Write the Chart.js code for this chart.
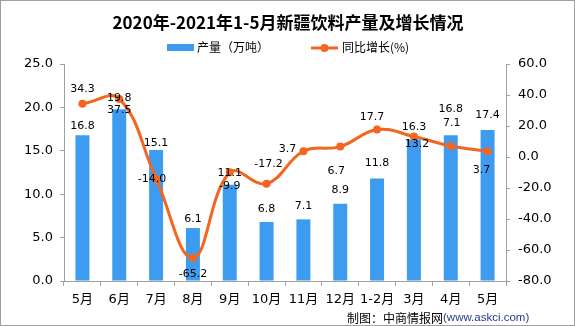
<!DOCTYPE html>
<html>
<head>
<meta charset="utf-8">
<script src="https://cdn.jsdelivr.net/npm/chart.js@4.4.0/dist/chart.umd.min.js"></script>
<style>
html,body{margin:0;padding:0;background:#fff;}
canvas{display:block;}
</style>
</head>
<body>
<canvas id="c" width="575" height="326"></canvas>
<script>
// ---- data ----
const categories = ['5月','6月','7月','8月','9月','10月','11月','12月','1-2月','3月','4月','5月'];
const production = [16.8, 19.8, 15.1, 6.1, 11.1, 6.8, 7.1, 8.9, 11.8, 16.3, 16.8, 17.4];
const growth = [34.3, 37.5, -14.0, -65.2, -9.9, -17.2, 3.7, 6.7, 17.7, 13.2, 7.1, 3.7];
const leftTicks = [0, 5, 10, 15, 20, 25];
const rightTicks = [-80, -60, -40, -20, 0, 20, 40, 60];
const seriesNames = ['产量（万吨）', '同比增长(%)'];
const titleText = '2020年-2021年1-5月新疆饮料产量及增长情况';
const sourceA = '制图：中商情报网';
const sourceB = '(www.askci.com)';

// ---- label placement (style) ----
const barLabelDy = [-9, -11, -7, -9, -12, -13, -13, -14, -15, -12, -26, -15];
const lineLabelDx = [0, 0, -4, 0, 0, 2, -16, -4, -5, 3, 1, -6];
const lineLabelDy = [-15, 11, 0, 16, 14, -20, -2, 25, -12, 8, -23, 19];

const BLUE = '#3d9cf0';
const ORANGE = '#f4661f';
const AXIS = '#a0a0a0';
const TICKFONT = {family: 'DejaVu Sans, "Noto Sans CJK SC"', size: 13};

const decor = {
  id: 'decor',
  afterDatasetsDraw(chart) {
    const ctx = chart.ctx;
    ctx.save();
    ctx.font = '11px "DejaVu Sans"';
    ctx.fillStyle = '#000';
    ctx.textAlign = 'center';
    ctx.textBaseline = 'middle';
    const barMeta = chart.getDatasetMeta(1);
    barMeta.data.forEach((el, i) => {
      ctx.fillText(production[i].toFixed(1), el.x, el.y + barLabelDy[i]);
    });
    const lineMeta = chart.getDatasetMeta(0);
    lineMeta.data.forEach((el, i) => {
      ctx.fillText(growth[i].toFixed(1), el.x + lineLabelDx[i], el.y + lineLabelDy[i]);
    });
    ctx.restore();
  },
  afterDraw(chart) {
    const ctx = chart.ctx;
    ctx.save();
    // title
    ctx.fillStyle = '#000';
    ctx.font = 'bold 17px "Noto Sans CJK SC"';
    ctx.textAlign = 'center';
    ctx.textBaseline = 'middle';
    ctx.fillText(titleText, 288, 22.5);
    // legend
    ctx.fillStyle = BLUE;
    ctx.fillRect(167, 44, 27, 7);
    ctx.fillStyle = '#000';
    ctx.font = '12px "Noto Sans CJK SC"';
    ctx.textAlign = 'left';
    ctx.fillText(seriesNames[0], 197, 47.5);
    ctx.strokeStyle = ORANGE;
    ctx.lineWidth = 3;
    ctx.beginPath(); ctx.moveTo(311, 48); ctx.lineTo(338, 48); ctx.stroke();
    ctx.fillStyle = ORANGE;
    ctx.beginPath(); ctx.arc(324.5, 48, 4, 0, Math.PI * 2); ctx.fill();
    ctx.fillStyle = '#000';
    ctx.fillText(seriesNames[1], 342, 47.5);
    // source
    ctx.font = '12px "Noto Sans CJK SC"';
    ctx.fillText(sourceA, 347, 318);
    const w = ctx.measureText(sourceA).width;
    ctx.font = '11.5px "Liberation Sans"';
    ctx.fillStyle = '#1f3c88';
    ctx.fillText(sourceB, 347 + w, 318);
    // border
    ctx.strokeStyle = '#a0a0a0';
    ctx.lineWidth = 1;
    ctx.strokeRect(0.5, 0.5, 574, 325);
    ctx.restore();
  }
};

new Chart(document.getElementById('c'), {
  type: 'bar',
  data: {
    labels: categories,
    datasets: [
      {
        type: 'line',
        label: seriesNames[1],
        data: growth,
        yAxisID: 'y1',
        borderColor: ORANGE,
        backgroundColor: ORANGE,
        borderWidth: 3,
        pointRadius: 4,
        pointBorderWidth: 0,
        pointBackgroundColor: ORANGE,
        tension: 0.4,
        order: 0
      },
      {
        type: 'bar',
        label: seriesNames[0],
        data: production,
        yAxisID: 'y',
        backgroundColor: BLUE,
        barPercentage: 0.38,
        categoryPercentage: 1,
        order: 1
      }
    ]
  },
  options: {
    responsive: false,
    devicePixelRatio: 1,
    animation: false,
    layout: {padding: {top: 64, left: 0, right: 0, bottom: 15}},
    plugins: {legend: {display: false}, title: {display: false}, tooltip: {enabled: false}},
    scales: {
      x: {
        offset: true,
        grid: {display: true, drawOnChartArea: false, offset: true, tickLength: 5, color: AXIS},
        border: {display: true, color: AXIS},
        ticks: {font: TICKFONT, color: '#000', padding: 6, maxRotation: 0, autoSkip: false},
        afterFit(s) { s.height = 30; }
      },
      y: {
        position: 'left',
        min: leftTicks[0], max: leftTicks[leftTicks.length - 1],
        afterBuildTicks(s) { s.ticks = leftTicks.map(v => ({value: v})); },
        grid: {display: true, drawOnChartArea: false, tickLength: 4, color: AXIS},
        border: {display: true, color: AXIS},
        ticks: {font: TICKFONT, color: '#000', padding: 7, callback: v => Number(v).toFixed(1)},
        afterFit(s) { s.width = 64; }
      },
      y1: {
        position: 'right',
        min: rightTicks[0], max: rightTicks[rightTicks.length - 1],
        afterBuildTicks(s) { s.ticks = rightTicks.map(v => ({value: v})); },
        grid: {display: true, drawOnChartArea: false, tickLength: 4, color: AXIS},
        border: {display: true, color: AXIS},
        ticks: {font: TICKFONT, color: '#000', padding: 8, callback: v => Number(v).toFixed(1)},
        afterFit(s) { s.width = 69; }
      }
    }
  },
  plugins: [decor]
});
</script>
</body>
</html>
